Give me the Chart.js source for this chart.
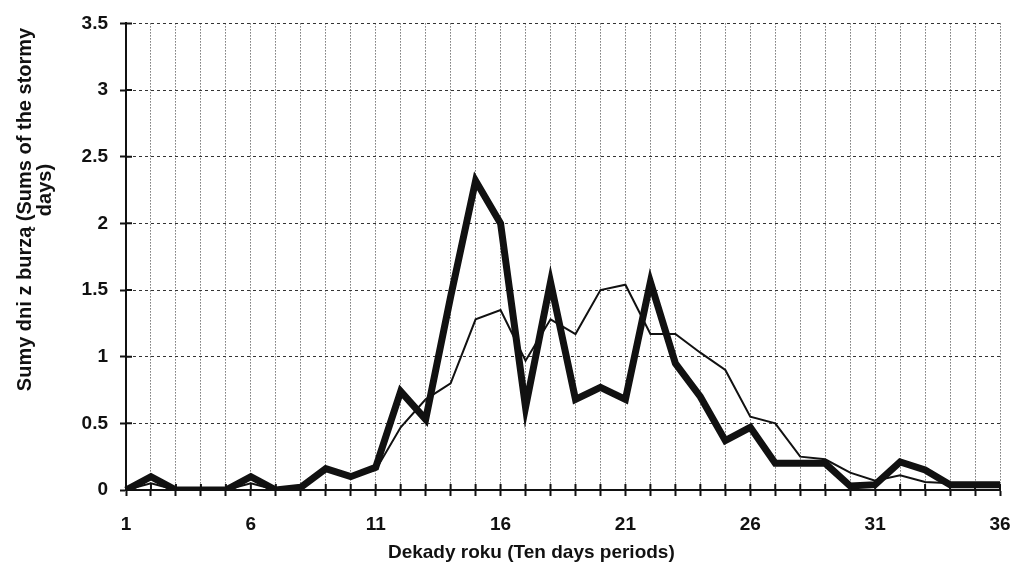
<!DOCTYPE html>
<html>
<head>
<meta charset="utf-8">
<script src="https://cdn.jsdelivr.net/npm/chart.js@4.4.0/dist/chart.umd.min.js"></script>
<style>
  html, body { margin: 0; background: #fff; }
  #wrap { width: 1014px; height: 580px; }
</style>
</head>
<body>
<div id="wrap"><canvas id="chart"></canvas></div>
<script>
// dekady roku 1..36
const dekady = ['1','2','3','4','5','6','7','8','9','10','11','12','13','14','15','16','17','18',
  '19','20','21','22','23','24','25','26','27','28','29','30','31','32','33','34','35','36'];
// gruba linia
const sumyGruba = [0, 0.1, 0, 0, 0, 0.1, 0, 0.02, 0.16, 0.1, 0.17, 0.74, 0.53, 1.45, 2.32, 2.0, 0.62, 1.56,
  0.68, 0.77, 0.68, 1.56, 0.95, 0.7, 0.37, 0.47, 0.2, 0.2, 0.2, 0.03, 0.04, 0.21, 0.15, 0.04, 0.04, 0.04];
// cienka linia
const sumyCienka = [0, 0.05, 0, 0, 0, 0.05, 0, 0.02, 0.15, 0.1, 0.15, 0.47, 0.68, 0.8, 1.28, 1.35, 0.97, 1.28,
  1.17, 1.5, 1.54, 1.17, 1.17, 1.03, 0.9, 0.55, 0.5, 0.25, 0.23, 0.13, 0.07, 0.11, 0.06, 0.05, 0.05, 0.05];
const yTicks = { min: 0, max: 3.5, step: 0.5 };
const tytulX = 'Dekady roku (Ten days periods)';
const tytulY = ['Sumy dni z burzą (Sums of the stormy', 'days)'];

const FONT = "'Liberation Sans', Arial, sans-serif";
const INK = '#111';

// krótkie kreski osi po wewnętrznej stronie (jak w oryginale)
const innerTicks = {
  id: 'innerTicks',
  afterDatasetsDraw(chart) {
    const { ctx, scales: { x, y } } = chart;
    ctx.save();
    ctx.strokeStyle = INK;
    ctx.lineWidth = 2;
    ctx.beginPath();
    x.ticks.forEach((t, i) => {
      const px = x.getPixelForTick(i);
      ctx.moveTo(px, y.bottom); ctx.lineTo(px, y.bottom - 6);
    });
    y.ticks.forEach((t, i) => {
      const py = y.getPixelForTick(i);
      ctx.moveTo(x.left, py); ctx.lineTo(x.left + 6, py);
    });
    ctx.stroke();
    ctx.restore();
  }
};

new Chart(document.getElementById('chart'), {
  type: 'line',
  data: {
    labels: dekady,
    datasets: [
      { label: 'gruba', data: sumyGruba, borderColor: INK, borderWidth: 7, pointRadius: 0,
        borderJoinStyle: 'miter', tension: 0 },
      { label: 'cienka', data: sumyCienka, borderColor: INK, borderWidth: 2, pointRadius: 0,
        borderJoinStyle: 'miter', tension: 0 }
    ]
  },
  options: {
    responsive: true,
    maintainAspectRatio: false,
    animation: false,
    layout: { padding: { left: 0, right: 14, top: 20, bottom: 0 } },
    plugins: { legend: { display: false }, tooltip: { enabled: false } },
    scales: {
      x: {
        type: 'category',
        offset: false,
        grid: { color: '#333', lineWidth: 1, tickLength: 6, tickColor: INK, tickWidth: 2, tickBorderDash: [] },
        border: { color: INK, width: 2, dash: [1, 2] },
        ticks: {
          autoSkip: false, maxRotation: 0, padding: 17, color: INK,
          font: { family: FONT, size: 19, weight: 'bold' },
          callback: function (v, i) { return i % 5 === 0 ? this.getLabelForValue(v) : ''; }
        },
        title: { display: true, text: tytulX + ' '.repeat(12), color: INK, padding: { top: 16, bottom: 16 },
          font: { family: FONT, size: 19, weight: 'bold' } },
        afterFit: s => { s.height = 90; s.paddingRight = 0; s.paddingLeft = 0; }
      },
      y: {
        min: yTicks.min, max: yTicks.max,
        grid: { color: '#333', lineWidth: 1, tickLength: 6, tickColor: INK, tickWidth: 2, tickBorderDash: [] },
        border: { color: INK, width: 2, dash: [3, 3] },
        ticks: { stepSize: yTicks.step, padding: 12, color: INK,
          font: { family: FONT, size: 19, weight: 'bold' },
          callback: v => String(v) },
        title: { display: true, color: INK, padding: { top: 15, bottom: 0 },
          text: [' '.repeat(17) + tytulY[0], ' '.repeat(24) + tytulY[1]],
          font: { family: FONT, size: 20, weight: 'bold', lineHeight: 1.0 } },
        afterFit: s => { s.width = 126; }
      }
    }
  },
  plugins: [innerTicks]
});
</script>
</body>
</html>
